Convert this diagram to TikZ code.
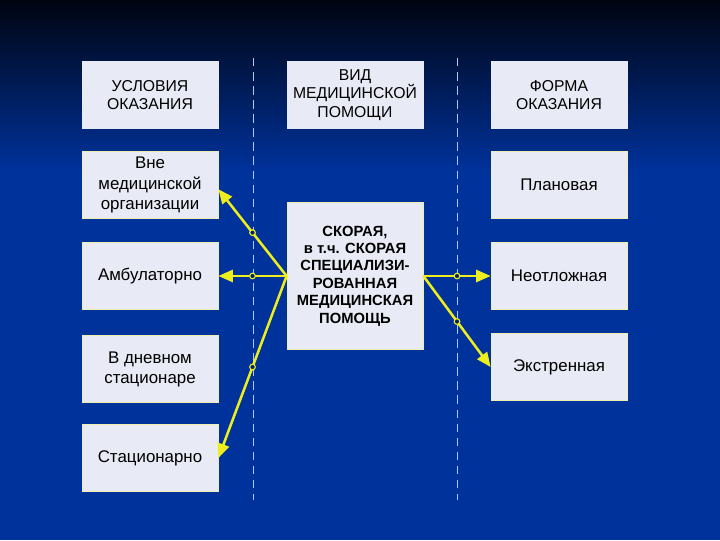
\documentclass[tikz,border=0pt]{standalone}
\usepackage{fontspec}
\setmainfont{Liberation Sans}
\usetikzlibrary{arrows.meta}
\definecolor{bgtop}{RGB}{0,4,16}
\definecolor{bgblue}{RGB}{0,50,155}
\definecolor{boxfill}{RGB}{232,235,245}
\definecolor{boxedge}{RGB}{238,238,175}
\definecolor{arryel}{RGB}{238,238,30}
\definecolor{sepline}{RGB}{175,200,235}

\begin{document}
\begin{tikzpicture}[
  x=0.025cm, y=-0.025cm,
  font=\fontsize{12}{14.3}\selectfont,
  box/.style={draw=boxedge, line width=0.5pt, fill=boxfill, align=center,
              minimum width=3.4cm, minimum height=1.675cm, inner sep=2pt},
  head/.style={box, draw=boxfill, font=\fontsize{11.2}{13.2}\selectfont},
  main/.style={box, minimum height=3.675cm,
               font=\fontsize{10.5}{12.4}\selectfont\bfseries},
  sep/.style={sepline, line width=0.6pt, dash pattern=on 6pt off 4pt},
  arr/.style={-{Triangle[length=3.6mm, width=3mm]}, arryel, line width=1.8pt},
  dot/.style={circle, draw=arryel, fill=bgblue!70!black, line width=0.8pt,
              inner sep=0pt, minimum size=4pt}]

  % background
  \useasboundingbox (0,0) rectangle (720,540);
  \shade[top color=bgtop, bottom color=bgblue] (0,0) rectangle (720,170);
  \fill[bgblue] (0,169) rectangle (720,540);

  % column separators
  \draw[sep] (253,58) -- (253,500);
  \draw[sep] (457,58) -- (457,500);

  % header row
  \node[head] (uslovia) at (150,95) {УСЛОВИЯ\\ОКАЗАНИЯ};
  \node[head] (vid) at (355,95) {ВИД\\МЕДИЦИНСКОЙ\\ПОМОЩИ};
  \node[head] (forma) at (559,95) {ФОРМА\\ОКАЗАНИЯ};

  % conditions
  \node[box] (vne) at (150,185) {Вне\\медицинской\\организации};
  \node[box] (ambul) at (150,276) {Амбулаторно};
  \node[box] (dnevn) at (150,369) {В дневном\\стационаре};
  \node[box] (stac) at (150,458) {Стационарно};

  % kind of care
  \node[main] (skoraya) at (355,276) {СКОРАЯ,\\в т.ч. СКОРАЯ\\СПЕЦИАЛИЗИ-\\РОВАННАЯ\\МЕДИЦИНСКАЯ\\ПОМОЩЬ};

  % forms
  \node[box] (planov) at (559,185) {Плановая};
  \node[box] (neotl) at (559,276) {Неотложная};
  \node[box] (ekstr) at (559,367) {Экстренная};

  % arrows
  \draw[arr] (skoraya.west) -- ([yshift=-3pt]vne.east) node[dot, pos=.5] {};
  \draw[arr] (skoraya.west) -- (ambul.east) node[dot, pos=.5] {};
  \draw[arr] (skoraya.west) -- (stac.east) node[dot, pos=.5] {};
  \draw[arr] (skoraya.east) -- (neotl.west) node[dot, pos=.5] {};
  \draw[arr] (skoraya.east) -- (ekstr.west) node[dot, pos=.5] {};
\end{tikzpicture}
\end{document}
